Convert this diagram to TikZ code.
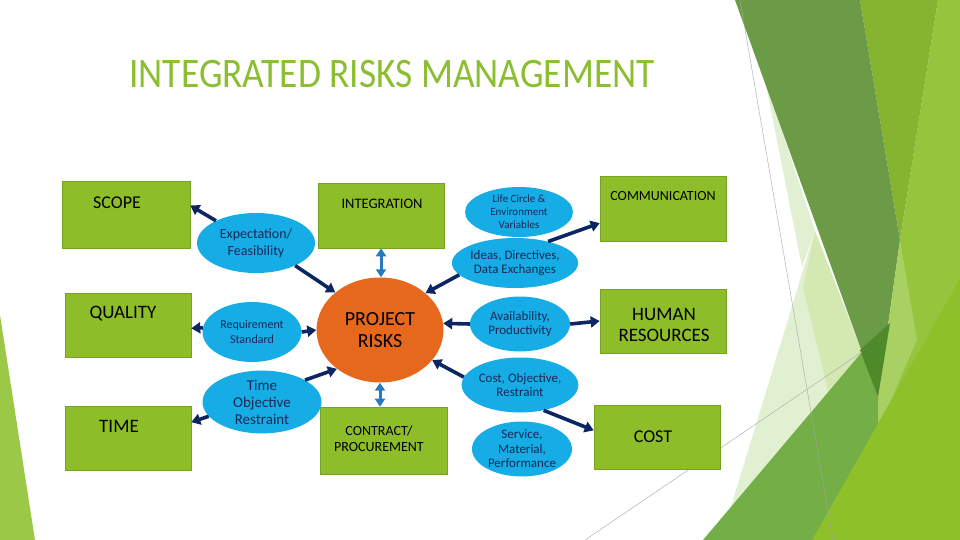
\documentclass[tikz,border=0pt]{standalone}
\usepackage{fontspec}
\setmainfont{Carlito}
\usetikzlibrary{arrows.meta,shapes.geometric}

\definecolor{boxgreen}{RGB}{141,190,42}
\definecolor{ellblue}{RGB}{22,172,230}
\definecolor{riskorange}{RGB}{230,104,28}
\definecolor{arrnavy}{RGB}{12,38,100}
\definecolor{arrsteel}{RGB}{40,120,190}
\definecolor{titlegreen}{RGB}{140,190,50}
\definecolor{elltext}{RGB}{25,40,85}
\definecolor{facetdark}{RGB}{108,155,72}
\definecolor{facetolive}{RGB}{135,180,48}
\definecolor{facetlight}{RGB}{150,196,60}
\definecolor{facetpale}{RGB}{226,240,210}
\definecolor{facetpalemid}{RGB}{212,232,178}
\definecolor{facetpaletwo}{RGB}{168,208,98}
\definecolor{facetmid}{RGB}{116,174,70}
\definecolor{facetdeep}{RGB}{78,138,42}
\definecolor{facetbright}{RGB}{142,192,42}
\definecolor{facetleft}{RGB}{156,200,72}

\begin{document}
\begin{tikzpicture}[x=1pt,y=-1pt,
  gbox/.style={draw=boxgreen!85!black, line width=0.6pt, fill=boxgreen,
    minimum width=126pt, minimum height=65pt, inner sep=0pt},
  btxt/.style={font=\fontsize{14}{16}\selectfont, align=center, inner sep=0pt},
  bigtxt/.style={font=\fontsize{19}{21}\selectfont, align=center, inner sep=0pt},
  bubble/.style={ellipse, fill=ellblue, inner sep=0pt, align=center, text=elltext,
    font=\fontsize{13}{14.5}\selectfont},
  navyarr/.style={draw=arrnavy, line width=3.6pt, -{Triangle[length=9pt,width=11pt]}},
  steelarr/.style={draw=arrsteel, line width=3pt,
    {Triangle[length=8pt,width=10pt]}-{Triangle[length=8pt,width=10pt]}}]
\useasboundingbox (0,0) rectangle (960,540);
\fill[white] (0,0) rectangle (960,540);

% facet background
\fill[facetleft] (0,315) -- (35,540) -- (0,540) -- cycle;
\fill[facetpale] (765,80) -- (815,231) -- (802,267) -- cycle;
\fill[facetpale] (815,231) -- (863,353) -- (730,510) -- cycle;
\fill[facetpalemid] (815,231) -- (862,353) -- (828,391) -- (803,287) -- cycle;
\fill[facetlight] (938,0) -- (960,0) -- (960,540) -- (870,540) -- (900,240) -- cycle;
\fill[facetolive] (860,0) -- (938,0) -- (900,240) -- cycle;
\fill[facetdark] (735,0) -- (860,0) -- (900,240) -- (878,397) -- (862,352) -- cycle;
\fill[facetpaletwo] (900,240) -- (917,340) -- (878,430) -- (878,397) -- cycle;
\fill[facetmid] (703,540) -- (862,352) -- (878,397) -- (878,430) -- (815,540) -- cycle;
\fill[facetdeep] (860,350) -- (890,323) -- (878,397) -- cycle;
\fill[facetbright] (812,540) -- (960,279) -- (960,540) -- cycle;
\draw[gray!70, line width=0.4pt] (740,0) -- (833,540);
\draw[gray!70, line width=0.4pt] (585,540) -- (862,352);

% title
\node[text=titlegreen, font=\fontsize{42}{44}\selectfont, inner sep=0pt] (title) at (392,74) {\scalebox{0.89}[1]{INTEGRATED RISKS MANAGEMENT}};

% green boxes
\node[gbox, minimum width=128pt, minimum height=67pt] (scope) at (126,214.5) {};
\node[gbox] (integ) at (381,215.5) {};
\node[gbox] (comm) at (663,208.5) {};
\node[gbox, minimum height=64pt] (quality) at (128,325) {};
\node[gbox, minimum height=64pt] (human) at (663,321) {};
\node[gbox, minimum height=64pt] (time) at (128,438) {};
\node[gbox, minimum width=127pt, minimum height=67pt] (contract) at (383.5,440.5) {};
\node[gbox, minimum height=64pt] (cost) at (657,437) {};

% box texts
\node[bigtxt, font=\fontsize{18}{20}\selectfont] (scopetxt) at (117,203) {SCOPE};
\node[btxt, font=\fontsize{14.5}{16}\selectfont] (integtxt) at (382,204) {INTEGRATION};
\node[btxt] (commtxt) at (663,196) {COMMUNICATION};
\node[bigtxt] (qualitytxt) at (123,314) {QUALITY};
\node[bigtxt] (humantxt) at (664,325) {HUMAN\\RESOURCES};
\node[bigtxt] (timetxt) at (119,426) {TIME};
\node[btxt] (contracttxt) at (379,439) {CONTRACT/\\PROCUREMENT};
\node[bigtxt, font=\fontsize{18}{20}\selectfont] (costtxt) at (653,437) {COST};

% centre
\node[ellipse, fill=riskorange, minimum width=127pt, minimum height=105pt, inner sep=0pt,
  align=center, font=\fontsize{20}{22}\selectfont] (risks) at (380,330) {PROJECT\\RISKS};

% blue bubbles
\node[bubble, minimum width=118pt, minimum height=60pt, font=\fontsize{14}{17}\selectfont] (expect) at (256,243) {Expectation/\\Feasibility};
\node[bubble, minimum width=99pt, minimum height=60pt, font=\fontsize{12}{15}\selectfont] (require) at (252,332) {Requirement\\Standard};
\node[bubble, minimum width=119pt, minimum height=60pt, font=\fontsize{15}{17}\selectfont] (timeobj) at (262,402) {Time\\Objective\\Restraint};
\node[bubble, minimum width=108pt, minimum height=50pt, font=\fontsize{11}{13}\selectfont] (life) at (519,212) {Life Circle \&\\Environment\\Variables};
\node[bubble, minimum width=106pt, minimum height=50pt] (ideas) at (515,263) {Ideas, Directives,\\Data Exchanges};
\node[bubble, minimum width=100pt, minimum height=55pt] (avail) at (520,324) {Availability,\\Productivity};
\node[bubble, minimum width=102pt, minimum height=55pt] (costobj) at (520,385) {Cost, Objective,\\Restraint};
\node[bubble, minimum width=100pt, minimum height=55pt] (service) at (522,449) {Service,\\Material,\\Performance};

% connectors
\path[navyarr] (expect.151) -- (scope.8);
\path[navyarr] (expect.-30) -- (risks.140);
\path[navyarr] (require.175) -- (quality.-3);
\path[navyarr] (require.east) -- (risks.180);
\path[navyarr] (timeobj.195) -- (time.14);
\path[navyarr] (timeobj.27) -- (risks.222);
\path[steelarr] (integ.south) -- (integ.south |- risks.north);
\path[steelarr] (risks.south) -- (risks.south |- contract.north);
\path[navyarr] (ideas.192) -- (risks.39);
\path[navyarr] (ideas.33) -- (comm.193);
\path[navyarr] (avail.west) -- (risks.6);
\path[navyarr] (avail.east) -- (human.west);
\path[navyarr] (costobj.172) -- (risks.-30);
\path[navyarr] (costobj.-47) -- (cost.174);
\end{tikzpicture}
\end{document}
